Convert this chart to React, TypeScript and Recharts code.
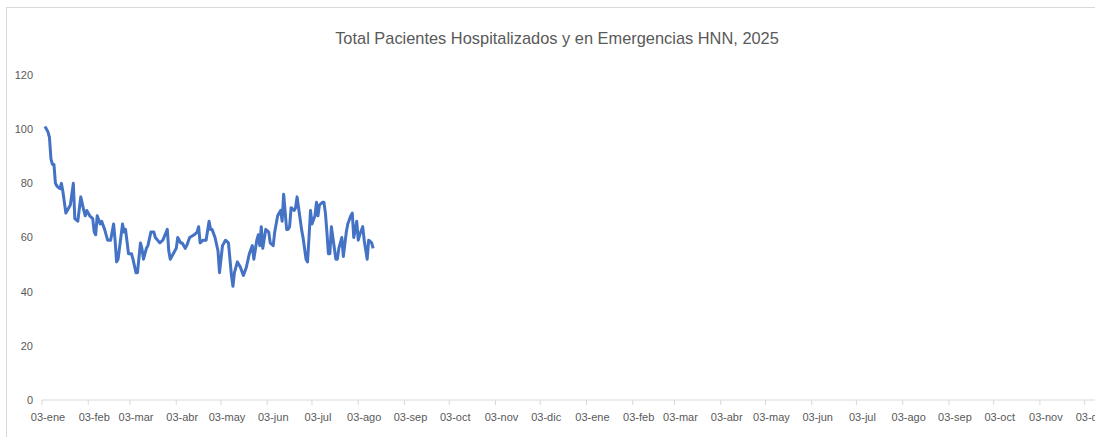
import { LineChart, Line, XAxis, YAxis } from 'recharts'

// días desde el 03-ene-2025
const dias = [
  2, 4, 5, 6, 7, 8, 9, 10, 12, 13, 14, 16, 19, 21, 22, 24, 26, 28, 29, 30,
  32, 34, 35, 36, 37, 39, 40, 42, 43, 44, 46, 48, 49, 50, 51, 54, 55, 56, 58, 60,
  61, 63, 64, 66, 67, 68, 70, 71, 73, 75, 76, 79, 81, 84, 85, 86, 88, 90, 91, 93,
  94, 96, 97, 99, 102, 104, 105, 106, 108, 110, 112, 113, 114, 116, 118, 119, 121, 123, 125, 127,
  128, 129, 131, 133, 135, 137, 139, 141, 142, 144, 145, 146, 147, 148, 150, 152, 153, 155, 156, 158,
  160, 161, 162, 164, 165, 166, 167, 169, 170, 171, 172, 174, 175, 177, 178, 179, 180, 181, 183, 184,
  185, 186, 188, 189, 190, 191, 192, 193, 194, 195, 197, 198, 199, 201, 202, 204, 205, 207, 208, 209,
  211, 212, 213, 215, 216, 218, 219, 221, 222,
]

const pacientes = [
  101, 99, 97, 89, 87, 87, 80, 79, 78, 80, 77, 69, 72, 80, 67, 66, 75, 70, 68, 70,
  68, 67, 62, 61, 68, 65, 66, 63, 61, 59, 59, 65, 59, 51, 52, 65, 62, 63, 54, 54,
  52, 47, 47, 58, 56, 52, 56, 57, 62, 62, 60, 58, 59, 63, 55, 52, 54, 56, 60, 58,
  58, 56, 57, 60, 61, 62, 64, 58, 59, 59, 66, 63, 63, 60, 55, 47, 57, 59, 58, 46,
  42, 47, 51, 49, 46, 49, 54, 57, 52, 59, 61, 57, 64, 56, 63, 62, 58, 57, 62, 68,
  70, 66, 76, 63, 63, 64, 71, 70, 71, 75, 71, 63, 60, 52, 51, 60, 70, 65, 68, 73,
  68, 72, 73, 73, 69, 62, 54, 54, 64, 60, 52, 52, 56, 60, 53, 62, 65, 68, 69, 60,
  66, 59, 61, 64, 59, 52, 59, 58, 56,
]

const meses = ['ene', 'feb', 'mar', 'abr', 'may', 'jun', 'jul', 'ago', 'sep', 'oct', 'nov', 'dic']
const anios = [2025, 2026]
const yTicks = [0, 20, 40, 60, 80, 100, 120]

const inicio = Date.UTC(2025, 0, 3)
const DIA = 86400000

const xTicks: number[] = []
const tickLabels: Record<number, string> = {}
anios.forEach((a) => {
  meses.forEach((m, i) => {
    const d = Math.round((Date.UTC(a, i, 3) - inicio) / DIA)
    xTicks.push(d)
    tickLabels[d] = '03-' + m
  })
})

const data = dias.map((d, i) => ({ dia: d, valor: pacientes[i] }))

const gray = '#595959'
const axisGray = '#d9d9d9'
const font = '"Liberation Sans", Arial, sans-serif'

export default function App() {
  return (
    <div
      style={{
        position: 'absolute',
        left: 0,
        top: 0,
        width: 1095,
        height: 437,
        overflow: 'hidden',
        background: '#fff',
        fontFamily: font,
      }}
    >
      {/* chart frame */}
      <div
        style={{
          position: 'absolute',
          left: 6,
          top: 7,
          width: 1200,
          height: 500,
          border: `1px solid ${axisGray}`,
          pointerEvents: 'none',
        }}
      />
      <div
        style={{
          position: 'absolute',
          left: 0,
          top: 29,
          width: 1114,
          textAlign: 'center',
          fontSize: 16.4,
          color: gray,
          whiteSpace: 'nowrap',
        }}
      >
        Total Pacientes Hospitalizados y en Emergencias HNN, 2025
      </div>
      <div style={{ position: 'absolute', left: 0, top: 0 }}>
        <LineChart width={1120} height={437} data={data} margin={{ top: 75, right: 4, bottom: 7, left: 6 }}>
          <XAxis
            dataKey="dia"
            type="number"
            domain={[0, 720]}
            ticks={xTicks}
            interval={0}
            tickFormatter={(v: number) => tickLabels[v] ?? ''}
            height={30}
            tickSize={5}
            tickMargin={8}
            stroke={axisGray}
            tick={{ fill: gray, fontSize: 11, fontFamily: font, dx: 6 }}
          />
          <YAxis
            type="number"
            domain={[0, 120]}
            ticks={yTicks}
            width={36}
            axisLine={false}
            tickLine={false}
            tickSize={0}
            tickMargin={9}
            tick={{ fill: gray, fontSize: 11, fontFamily: font }}
          />
          <Line
            type="linear"
            dataKey="valor"
            stroke="#4472C4"
            strokeWidth={3}
            dot={false}
            strokeLinejoin="round"
            isAnimationActive={false}
          />
        </LineChart>
      </div>
    </div>
  )
}
